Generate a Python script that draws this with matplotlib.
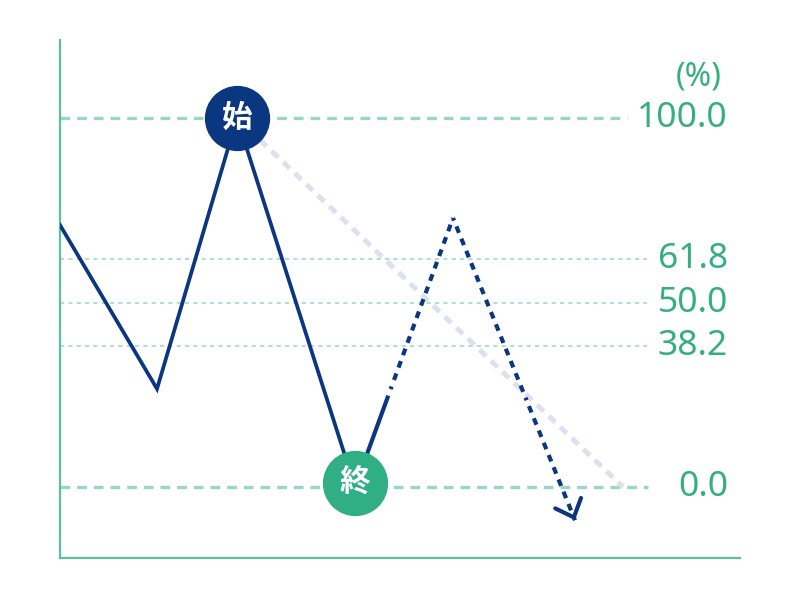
import numpy as np
import matplotlib
matplotlib.use("Agg")
import matplotlib.pyplot as plt

plt.rcParams['lines.scale_dashes'] = False

# ---- data ----
fib_levels = [100.0, 61.8, 50.0, 38.2, 0.0]
fib_labels = ["100.0", "61.8", "50.0", "38.2", "0.0"]
unit_label = "(%)"

# price path (x in chart units, y in %)
path_x = [0, 97, 177, 295]
path_y = [71.0, 26.6, 100.0, 0.0]
# projected path after the low
proj_x = [295, 393, 515]
proj_y = [0.0, 72.9, -9.0]
# retracement guide (from start point to 0 level)
guide_x = [177, 563]
guide_y = [100.0, 0.0]

start_label = "始"
end_label = "終"

NAVY = "#0B3680"
GREEN = "#30AE84"
GRID = "#97D8BF"
AXIS = "#5DC09D"
TEXT = "#36AF80"
GUIDE = "#DCE1ED"

fig = plt.figure(figsize=(8, 6), dpi=100)
ax = fig.add_axes([0.075, 0.07, 0.85, 0.8633])
ax.set_xlim(0, 680)
ax.set_ylim(-19.24, 121.14)
for s in ["top", "right"]:
    ax.spines[s].set_visible(False)
for s in ["left", "bottom"]:
    ax.spines[s].set_color(AXIS)
    ax.spines[s].set_linewidth(1.6)
ax.set_xticks([])
ax.set_yticks([])

# level lines
for lv in fib_levels:
    if lv in (100.0, 0.0):
        xmax = 567 if lv == 100.0 else 588
        ax.plot([0, xmax], [lv, lv], color=GRID, lw=2.4,
                dashes=(7, 5), solid_capstyle='butt', zorder=1)
    else:
        ax.plot([0, 587], [lv, lv], color=GRID, lw=1.1,
                dashes=(3, 3), zorder=1)

# labels
for lv, lab in zip(fib_levels, fib_labels):
    ax.text(668, lv, lab, ha='right', va='center',
            fontsize=25.5, color=TEXT, family=["Noto Sans", "DejaVu Sans"],
            clip_on=False)
ax.text(662, 100 + 11, unit_label, ha='right', va='center', fontsize=23,
        color=TEXT, family=["Noto Sans", "DejaVu Sans"], clip_on=False)

# guide line
ax.plot(guide_x, guide_y, color=GUIDE, lw=3.6, dashes=(6.5, 5), zorder=2)

# main path
ax.plot(path_x, path_y, color=NAVY, lw=2.7, solid_joinstyle='miter', zorder=3)

# projected path: first leg (long solid start, a dot, then dashes)
dash_first = [70, 5, 2, 5] + [5, 4.5] * 22
ax.plot(proj_x[:2], proj_y[:2], color=NAVY, lw=3.0, dashes=dash_first,
        dash_capstyle='butt', zorder=3)
# second leg (dashes)
ax.plot(proj_x[1:], proj_y[1:], color=NAVY, lw=3.0, dashes=(2, 4.5) + (5, 4.5) * 14,
        dash_capstyle='butt', zorder=3)

# arrow head
tip = np.array([proj_x[-1], proj_y[-1]])
prev = np.array([proj_x[-2], proj_y[-2]])
near = tip - 0.01 * (tip - prev)
ax.annotate('', xy=tuple(tip), xytext=tuple(near),
            arrowprops=dict(arrowstyle='->,head_length=1.1,head_width=1.0',
                            color=NAVY, lw=3.0, shrinkA=0, shrinkB=0,
                            mutation_scale=10), zorder=3)

# markers
ax.plot([path_x[2]], [path_y[2]], 'o', ms=47, color=NAVY, mec='none', zorder=5)
ax.text(path_x[2], path_y[2], start_label, ha='center', va='center',
        fontsize=22, color='white', fontweight='bold',
        family=["Noto Sans CJK JP", "DejaVu Sans"], zorder=6)
ax.plot([path_x[3]], [path_y[3] + 1.2], 'o', ms=47, color=GREEN, mec='none', zorder=5)
ax.text(path_x[3], path_y[3] + 1.2, end_label, ha='center', va='center',
        fontsize=22, color='white', fontweight='bold',
        family=["Noto Sans CJK JP", "DejaVu Sans"], zorder=6)

fig.savefig("out.png", dpi=100)
